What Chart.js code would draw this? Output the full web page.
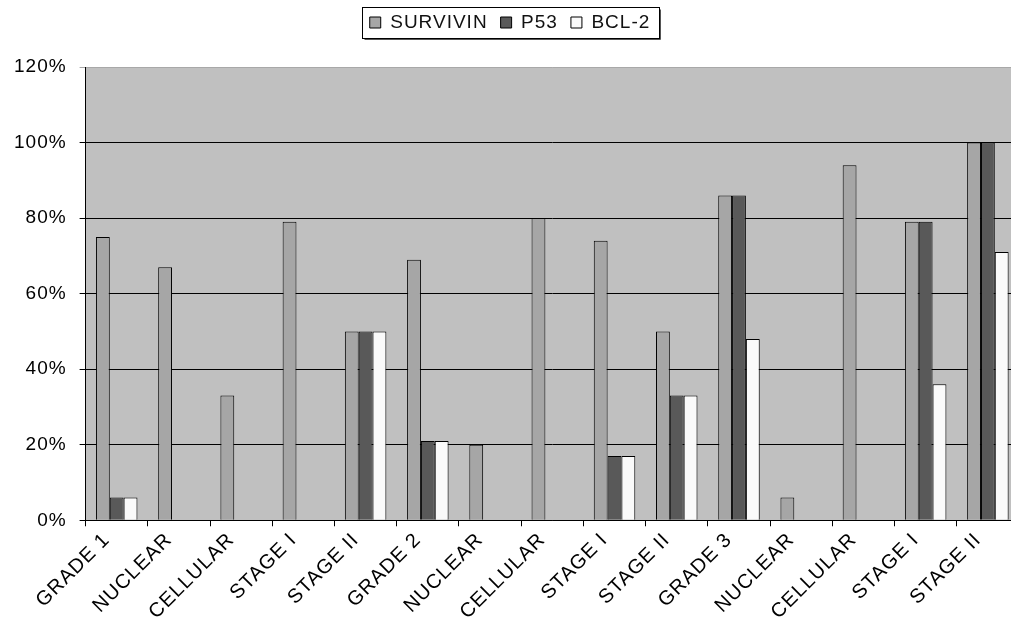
<!DOCTYPE html>
<html>
<head>
<meta charset="utf-8">
<script src="https://cdn.jsdelivr.net/npm/chart.js@4.4.1/dist/chart.umd.min.js"></script>
<style>
  html, body { margin: 0; padding: 0; background: #fff; overflow: hidden; }
  #wrap { width: 1023px; height: 630px; }
</style>
</head>
<body>
<div id="wrap"><canvas id="bar_chart"></canvas></div>
<script>
const categories = [
  "GRADE 1", "NUCLEAR", "CELLULAR", "STAGE I", "STAGE II",
  "GRADE 2", "NUCLEAR", "CELLULAR", "STAGE I", "STAGE II",
  "GRADE 3", "NUCLEAR", "CELLULAR", "STAGE I", "STAGE II",
];
const survivin = [75, 67, 33, 79, 50, 69, 20, 80, 74, 50, 86, 6, 94, 79, 100];
const p53 = [6, 0, 0, 0, 50, 21, 0, 0, 17, 33, 86, 0, 0, 79, 100];
const bcl2 = [6, 0, 0, 0, 50, 21, 0, 0, 17, 33, 48, 0, 0, 36, 71];
const yTicks = [0, 20, 40, 60, 80, 100, 120];

const FONT = "'Liberation Sans', Arial, sans-serif";

// letter spacing + grey plot area
const plotBg = {
  id: "plotBg",
  beforeInit(chart) {
    // extra room under the legend
    const legend = chart.legend;
    const fit = legend.fit;
    legend.fit = function () {
      fit.call(this);
      this.height += 25;
    };
  },
  beforeUpdate(chart) {
    chart.ctx.letterSpacing = "1px";
  },
  beforeDraw(chart) {
    const { ctx, chartArea: a } = chart;
    ctx.letterSpacing = "1px";
    ctx.save();
    ctx.fillStyle = "#c0c0c0";
    ctx.fillRect(a.left, a.top, a.right - a.left, a.bottom - a.top);
    ctx.restore();
  },
};

// frame round the legend
const legendFrame = {
  id: "legendFrame",
  afterDraw(chart) {
    const boxes = chart.legend.legendHitBoxes;
    if (!boxes || !boxes.length) return;
    const first = boxes[0];
    const last = boxes[boxes.length - 1];
    const cy = first.top + first.height / 2;
    const x0 = Math.round(first.left - 8) + 0.5;
    const x1 = Math.round(last.left + last.width + 9) + 0.5;
    const y0 = Math.round(cy - 16) + 0.5;
    const y1 = Math.round(cy + 15) + 0.5;
    const ctx = chart.ctx;
    ctx.save();
    ctx.strokeStyle = "#000";
    ctx.lineWidth = 1;
    ctx.strokeRect(x0, y0, x1 - x0, y1 - y0);
    ctx.strokeStyle = "#555";
    ctx.beginPath();
    ctx.moveTo(x0 + 2, y1 + 1);
    ctx.lineTo(x1 + 1, y1 + 1);
    ctx.lineTo(x1 + 1, y0 + 2);
    ctx.stroke();
    ctx.restore();
  },
};

const ctx = document.getElementById("bar_chart");

const bar_chart = new Chart(ctx, {
  type: "bar",
  data: {
    labels: categories,
    datasets: [
      { label: "SURVIVIN", data: survivin, backgroundColor: "#a6a6a6" },
      { label: "P53", data: p53, backgroundColor: "#595959" },
      { label: "BCL-2", data: bcl2, backgroundColor: "#fafafa" },
    ].map((d) => ({ ...d, borderColor: "#000", borderWidth: 1, borderSkipped: "bottom" })),
  },
  options: {
    responsive: true,
    maintainAspectRatio: false,
    animation: false,
    layout: { padding: { left: 1, right: 4, top: 0, bottom: 4 } },
    datasets: {
      bar: { categoryPercentage: 0.667, barPercentage: 1 },
    },
    scales: {
      x: {
        grid: {
          offset: true,
          drawOnChartArea: false,
          color: "#000",
          tickLength: 6,
        },
        border: { color: "#000", width: 1 },
        ticks: {
          color: "#000",
          font: { family: FONT, size: 20 },
          minRotation: 45,
          maxRotation: 45,
          autoSkip: false,
          padding: 2,
          labelOffset: -10,
        },
      },
      y: {
        min: 0,
        max: 120,
        afterBuildTicks: (axis) => {
          axis.ticks = yTicks.map((v) => ({ value: v }));
        },
        grid: {
          color: (c) => (c.tick && c.tick.value === 120 ? "#a8a8a8" : "#000"),
          tickLength: 6,
        },
        border: { color: "#000", width: 1 },
        ticks: {
          color: "#000",
          font: { family: FONT, size: 19 },
          padding: 13,
          callback: (v) => v + "%",
        },
      },
    },
    plugins: {
      legend: {
        position: "top",
        labels: {
          boxWidth: 11,
          boxHeight: 11,
          padding: 13,
          color: "#111",
          font: { family: FONT, size: 19 },
        },
      },
      tooltip: { enabled: false },
    },
  },
  plugins: [plotBg, legendFrame],
});
</script>
</body>
</html>
